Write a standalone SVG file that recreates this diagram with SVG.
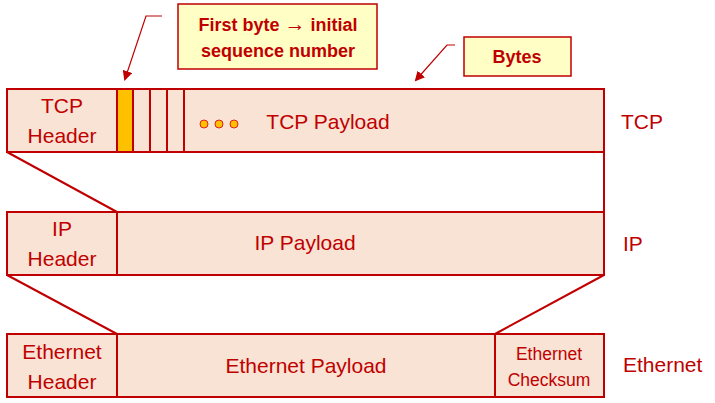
<svg xmlns="http://www.w3.org/2000/svg" width="715" height="403" viewBox="0 0 715 403">
<style>
.box{fill:#F9E3D5;stroke:#C00000;stroke-width:2}
.ln{fill:none;stroke:#C00000;stroke-width:2}
.t{font-family:"Liberation Sans",Arial,sans-serif;fill:#C00000;font-size:21px;text-anchor:middle}
.lbl{font-family:"Liberation Sans",Arial,sans-serif;fill:#C00000;font-size:21px}
.sm{font-size:17.5px}
.call{fill:#FFFFC5;stroke:#C00000;stroke-width:1.5}
.ct{font-family:"Liberation Sans",Arial,sans-serif;fill:#C00000;font-size:18px;font-weight:bold;text-anchor:middle}
.lead{fill:none;stroke:#C00000;stroke-width:1.2}
.dot{fill:#FFC000;stroke:#E02020;stroke-width:1}
</style>
<defs>
<marker id="ah" markerWidth="10" markerHeight="10" refX="8" refY="5" orient="auto" markerUnits="userSpaceOnUse">
<path d="M0,0 L10,5 L0,10 Z" fill="#C00000"/>
</marker>
</defs>
<rect width="715" height="403" fill="#FFFFFF"/>
<g id="connectors">
<line class="ln" x1="7" y1="152" x2="117" y2="212"/>
<line class="ln" x1="604" y1="152" x2="604" y2="212"/>
<line class="ln" x1="7" y1="275" x2="117" y2="334"/>
<line class="ln" x1="604" y1="275" x2="495" y2="334"/>
<polyline class="lead" points="162,16 146,16 125,79" marker-end="url(#ah)"/>
<polyline class="lead" points="455,45 447,45 416,80" marker-end="url(#ah)"/>
</g>
<g id="tcp">
<rect class="box" x="7" y="89" width="597" height="63"/>
<line class="ln" x1="117" y1="89" x2="117" y2="152"/>
<rect x="117" y="89" width="16" height="63" fill="#FFC000" stroke="#C00000" stroke-width="2"/>
<line class="ln" x1="150" y1="89" x2="150" y2="152"/>
<line class="ln" x1="167" y1="89" x2="167" y2="152"/>
<line class="ln" x1="184" y1="89" x2="184" y2="152"/>
<circle class="dot" cx="204" cy="124" r="4"/>
<circle class="dot" cx="219" cy="124" r="4"/>
<circle class="dot" cx="234" cy="124" r="4"/>
<text class="t" x="62" y="113">TCP</text>
<text class="t" x="62" y="143">Header</text>
<text class="t" x="328" y="129">TCP Payload</text>
<text class="lbl" x="621" y="129">TCP</text>
</g>
<g id="ip">
<rect class="box" x="7" y="212" width="597" height="63"/>
<line class="ln" x1="117" y1="212" x2="117" y2="275"/>
<text class="t" x="62" y="236">IP</text>
<text class="t" x="62" y="266">Header</text>
<text class="t" x="305" y="250">IP Payload</text>
<text class="lbl" x="623" y="251">IP</text>
</g>
<g id="ethernet">
<rect class="box" x="7" y="334" width="597" height="63"/>
<line class="ln" x1="117" y1="334" x2="117" y2="397"/>
<line class="ln" x1="495" y1="334" x2="495" y2="397"/>
<text class="t" x="62" y="359">Ethernet</text>
<text class="t" x="62" y="389">Header</text>
<text class="t" x="306" y="373">Ethernet Payload</text>
<text class="t sm" x="549" y="360">Ethernet</text>
<text class="t sm" x="549" y="386">Checksum</text>
<text class="lbl" x="623" y="372">Ethernet</text>
</g>
<g id="callout-first">
<rect class="call" x="178" y="4" width="199" height="65"/>
<text class="ct" x="278" y="31">First byte <tspan font-size="21">→</tspan> initial</text>
<text class="ct" x="278" y="57">sequence number</text>
</g>
<g id="callout-bytes">
<rect class="call" x="464" y="37" width="107" height="39"/>
<text class="ct" x="517" y="63">Bytes</text>
</g>
</svg>
